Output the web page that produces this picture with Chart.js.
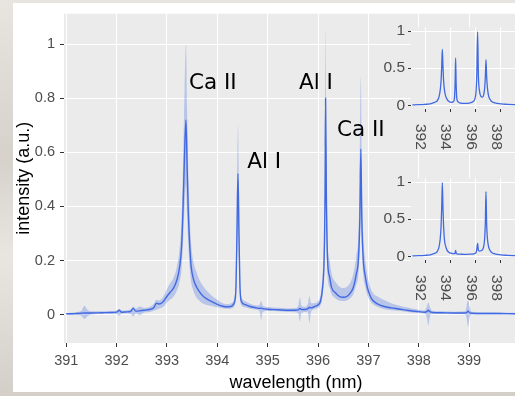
<!DOCTYPE html>
<html>
<head>
<meta charset="utf-8">
<script src="https://cdn.jsdelivr.net/npm/chart.js@4.4.1/dist/chart.umd.min.js"></script>
<style>
  html, body { margin: 0; padding: 0; }
  body {
    width: 515px; height: 396px; overflow: hidden;
    background: linear-gradient(180deg, #e8e4df 0%, #d6d1cb 40%, #e9e6e2 65%, #d3cec8 100%);
  }
  #frame { position: relative; width: 515px; height: 396px; overflow: hidden; }
  #sheet { position: absolute; left: 13px; top: 3px; width: 502px; height: 389px; background: #fff; }
  canvas { position: absolute; }
  #main { left: 0; top: 0; }
  #inset1 { left: 370px; top: 15px; }
  #inset2 { left: 370px; top: 166px; }
</style>
</head>
<body>
<div id="frame">
  <div id="sheet"></div>
  <canvas id="main" width="528" height="396"></canvas>
  <canvas id="inset1" width="158" height="145"></canvas>
  <canvas id="inset2" width="158" height="145"></canvas>
</div>
<script>
// main spectrum: mean line and spread band
const wavelength = [
  391.00, 391.10, 391.20, 391.30, 391.36, 391.42, 391.50, 391.70, 391.90, 392.00,
  392.05, 392.10, 392.20, 392.28, 392.33, 392.38, 392.46, 392.55, 392.65, 392.74,
  392.79, 392.84, 392.92, 393.00, 393.06, 393.13, 393.20, 393.25, 393.29, 393.32,
  393.35, 393.377, 393.40, 393.42, 393.47, 393.52, 393.58, 393.64, 393.70, 393.79,
  393.89, 394.00, 394.11, 394.20, 394.28, 394.34, 394.37, 394.39, 394.41, 394.43,
  394.45, 394.48, 394.55, 394.65, 394.78, 394.84, 394.87, 394.90, 395.00, 395.20,
  395.40, 395.55, 395.61, 395.64, 395.67, 395.74, 395.80, 395.83, 395.86, 395.93,
  396.00, 396.05, 396.09, 396.12, 396.14, 396.15, 396.165, 396.19, 396.23, 396.27,
  396.35, 396.42, 396.50, 396.58, 396.65, 396.70, 396.76, 396.80, 396.83, 396.85,
  396.87, 396.90, 396.94, 396.98, 397.03, 397.09, 397.20, 397.30, 397.45, 397.60,
  397.80, 398.00, 398.12, 398.16, 398.19, 398.22, 398.27, 398.45, 398.70, 398.92,
  398.95, 398.98, 399.01, 399.05, 399.30, 399.60, 399.90, 400.20
];
const meanIntensity = [
  0.003, 0.003, 0.004, 0.005, 0.006, 0.006, 0.006, 0.007, 0.008, 0.009,
  0.016, 0.009, 0.010, 0.012, 0.023, 0.013, 0.014, 0.016, 0.019, 0.026,
  0.042, 0.039, 0.047, 0.068, 0.082, 0.098, 0.130, 0.175, 0.250, 0.400,
  0.600, 0.720, 0.550, 0.400, 0.200, 0.136, 0.105, 0.086, 0.072, 0.058,
  0.048, 0.038, 0.031, 0.029, 0.031, 0.046, 0.100, 0.300, 0.522, 0.300,
  0.100, 0.048, 0.037, 0.030, 0.025, 0.023, 0.024, 0.022, 0.020, 0.018,
  0.016, 0.016, 0.018, 0.023, 0.019, 0.019, 0.022, 0.027, 0.025, 0.030,
  0.036, 0.050, 0.100, 0.200, 0.450, 0.800, 0.450, 0.200, 0.140, 0.100,
  0.080, 0.068, 0.064, 0.068, 0.082, 0.100, 0.150, 0.200, 0.350, 0.613,
  0.350, 0.200, 0.140, 0.100, 0.072, 0.052, 0.038, 0.031, 0.025, 0.021,
  0.015, 0.011, 0.009, 0.011, 0.016, 0.011, 0.008, 0.007, 0.006, 0.006,
  0.007, 0.013, 0.007, 0.005, 0.004, 0.004, 0.003, 0.003
];
const lowerIntensity = [
  0.000, -0.001, -0.001, -0.004, -0.016, -0.006, 0.000, 0.002, 0.003, 0.002,
  -0.004, 0.003, 0.004, 0.002, -0.007, 0.004, -0.002, 0.008, 0.010, 0.014,
  0.018, 0.022, 0.028, 0.045, 0.055, 0.066, 0.090, 0.120, 0.170, 0.270,
  0.400, 0.480, 0.370, 0.270, 0.135, 0.090, 0.065, 0.052, 0.042, 0.036,
  0.032, 0.027, 0.023, 0.022, 0.023, 0.032, 0.070, 0.200, 0.350, 0.200,
  0.070, 0.034, 0.027, 0.022, 0.018, 0.012, -0.020, 0.010, 0.013, 0.012,
  0.010, 0.009, 0.004, -0.026, 0.006, 0.010, 0.008, -0.032, 0.010, 0.020,
  0.025, 0.035, 0.070, 0.140, 0.300, 0.540, 0.300, 0.140, 0.100, 0.075,
  0.060, 0.052, 0.050, 0.053, 0.062, 0.075, 0.110, 0.145, 0.250, 0.430,
  0.250, 0.145, 0.100, 0.072, 0.052, 0.038, 0.027, 0.021, 0.016, 0.014,
  0.009, 0.006, 0.004, -0.010, -0.040, -0.008, 0.003, 0.003, 0.002, 0.001,
  -0.012, -0.046, -0.012, 0.000, 0.000, 0.000, 0.000, 0.000
];
const upperIntensity = [
  0.006, 0.007, 0.009, 0.014, 0.033, 0.018, 0.012, 0.012, 0.013, 0.015,
  0.021, 0.015, 0.016, 0.020, 0.031, 0.022, 0.030, 0.024, 0.028, 0.040,
  0.055, 0.052, 0.064, 0.095, 0.115, 0.135, 0.180, 0.240, 0.350, 0.560,
  0.830, 1.000, 0.760, 0.560, 0.290, 0.200, 0.160, 0.130, 0.110, 0.088,
  0.070, 0.055, 0.042, 0.039, 0.042, 0.065, 0.140, 0.420, 0.700, 0.420,
  0.140, 0.066, 0.050, 0.040, 0.034, 0.036, 0.050, 0.034, 0.028, 0.025,
  0.023, 0.024, 0.034, 0.062, 0.034, 0.029, 0.040, 0.068, 0.042, 0.042,
  0.050, 0.072, 0.140, 0.280, 0.620, 1.050, 0.620, 0.280, 0.200, 0.150,
  0.120, 0.104, 0.098, 0.104, 0.122, 0.150, 0.215, 0.285, 0.500, 0.880,
  0.500, 0.285, 0.200, 0.145, 0.105, 0.080, 0.065, 0.055, 0.042, 0.034,
  0.025, 0.018, 0.015, 0.030, 0.045, 0.028, 0.014, 0.012, 0.011, 0.012,
  0.030, 0.057, 0.030, 0.011, 0.009, 0.008, 0.007, 0.007
];
const xTicks = [391, 392, 393, 394, 395, 396, 397, 398, 399];
const yTicks = [0, 0.2, 0.4, 0.6, 0.8, 1];
const yTickLabels = ['0', '0.2', '0.4', '0.6', '0.8', '1'];

// line labels, placed in data coordinates
const lineNames = ['Ca II', 'Al I', 'Al I', 'Ca II'];
const lineNameX = [393.91, 394.93, 395.96, 396.85];
const lineNameY = [0.854, 0.562, 0.854, 0.682];

// the two small normalised spectra
const insetWavelength = [
  391.0, 391.5, 392.0, 392.4, 392.7, 392.9, 393.0, 393.1, 393.2, 393.27,
  393.32, 393.37, 393.42, 393.47, 393.54, 393.64, 393.75, 393.9, 394.1, 394.25,
  394.33, 394.38, 394.42, 394.46, 394.51, 394.6, 394.8, 395.1, 395.5, 395.8,
  395.95, 396.04, 396.1, 396.16, 396.22, 396.3, 396.42, 396.55, 396.65, 396.72,
  396.77, 396.82, 396.87, 396.92, 397.0, 397.1, 397.25, 397.45, 397.7, 398.0,
  398.5, 399.0, 399.5, 400.0
];
const insetTopIntensity = [
  0.005, 0.008, 0.013, 0.02, 0.035, 0.05, 0.07, 0.11, 0.2, 0.33,
  0.52, 0.755, 0.52, 0.33, 0.2, 0.12, 0.08, 0.05, 0.04, 0.05,
  0.1, 0.3, 0.637, 0.3, 0.1, 0.05, 0.03, 0.025, 0.03, 0.05,
  0.09, 0.2, 0.45, 0.987, 0.4, 0.2, 0.12, 0.11, 0.15, 0.24,
  0.38, 0.616, 0.4, 0.26, 0.15, 0.09, 0.055, 0.035, 0.025, 0.018,
  0.013, 0.01, 0.008, 0.008
];
const insetBottomIntensity = [
  0.005, 0.008, 0.013, 0.02, 0.035, 0.05, 0.075, 0.12, 0.23, 0.4,
  0.65, 0.99, 0.65, 0.4, 0.22, 0.13, 0.08, 0.05, 0.04, 0.035,
  0.035, 0.045, 0.08, 0.045, 0.035, 0.03, 0.028, 0.026, 0.028, 0.03,
  0.04, 0.05, 0.1, 0.175, 0.08, 0.07, 0.075, 0.09, 0.14, 0.25,
  0.45, 0.87, 0.45, 0.27, 0.15, 0.09, 0.055, 0.035, 0.025, 0.018,
  0.013, 0.01, 0.008, 0.008
];
const insetXTicks = [392, 394, 396, 398];
const insetYTicks = [0, 0.5, 1];
const insetYTickLabels = ['0', '0.5', '1'];

const blue = '#4169E1';
const band = 'rgba(65, 105, 225, 0.3)';
const panelGrey = '#EBEBEB';
const tickGrey = '#4D4D4D';
const sans = "'Liberation Sans', Arial, sans-serif";

const points = (xs, ys) => xs.map((x, i) => ({ x: x, y: ys[i] }));

const panelBackground = {
  id: 'panelBackground',
  beforeDraw(chart) {
    const { ctx, chartArea: a } = chart;
    ctx.save();
    ctx.fillStyle = panelGrey;
    ctx.fillRect(a.left, a.top, a.right - a.left, a.bottom - a.top);
    ctx.restore();
  }
};

// insets hide the main grid under their x labels too
const insetLabelBacking = {
  id: 'insetLabelBacking',
  beforeDraw(chart) {
    const { ctx, chartArea: a } = chart;
    ctx.save();
    ctx.fillStyle = panelGrey;
    ctx.fillRect(a.left, a.bottom, a.right - a.left, 41);
    ctx.restore();
  }
};

const lineNameLabels = {
  id: 'lineNameLabels',
  afterDatasetsDraw(chart) {
    const { ctx, scales: { x, y } } = chart;
    ctx.save();
    ctx.font = "21.5px 'DejaVu Sans'";
    ctx.fillStyle = '#000';
    ctx.textAlign = 'center';
    ctx.textBaseline = 'middle';
    lineNames.forEach((name, i) => {
      ctx.fillText(name, x.getPixelForValue(lineNameX[i]), y.getPixelForValue(lineNameY[i]));
    });
    ctx.restore();
  }
};

// inset x labels read top-to-bottom
const rotatedInsetLabels = {
  id: 'rotatedInsetLabels',
  afterDraw(chart) {
    const { ctx, chartArea, scales: { x } } = chart;
    ctx.save();
    ctx.font = '15.5px ' + sans;
    ctx.fillStyle = tickGrey;
    ctx.textAlign = 'left';
    ctx.textBaseline = 'alphabetic';
    insetXTicks.forEach(v => {
      ctx.save();
      ctx.translate(x.getPixelForValue(v) - 9, chartArea.bottom + 15);
      ctx.rotate(Math.PI / 2);
      ctx.fillText(String(v), 0, 0);
      ctx.restore();
    });
    ctx.restore();
  }
};

new Chart(document.getElementById('main'), {
  type: 'line',
  data: {
    datasets: [
      { data: points(wavelength, lowerIntensity), borderWidth: 0, borderColor: 'transparent', pointRadius: 0, fill: false, cubicInterpolationMode: 'monotone' },
      { data: points(wavelength, upperIntensity), borderWidth: 0, borderColor: 'transparent', pointRadius: 0, fill: '-1', backgroundColor: band, cubicInterpolationMode: 'monotone' },
      { data: points(wavelength, meanIntensity), borderColor: blue, borderWidth: 1.4, pointRadius: 0, fill: false, cubicInterpolationMode: 'monotone' }
    ]
  },
  options: {
    responsive: false,
    animation: false,
    events: [],
    layout: { padding: { top: 9, right: 0, bottom: 0, left: 0 } },
    plugins: { legend: { display: false }, tooltip: { enabled: false } },
    scales: {
      x: {
        type: 'linear',
        min: 390.955,
        max: 400.17,
        afterBuildTicks: s => { s.ticks = xTicks.map(v => ({ value: v })); },
        afterFit: s => { s.height = 53; },
        border: { display: false },
        grid: { color: '#fff', lineWidth: 1, tickLength: 4, tickColor: '#333' },
        ticks: { padding: 5, color: tickGrey, font: { family: sans, size: 14.5 }, maxRotation: 0 },
        title: { display: true, text: 'wavelength (nm)', color: '#000', font: { family: sans, size: 18 }, padding: { top: 0, bottom: 2 } }
      },
      y: {
        min: -0.105,
        max: 1.113,
        afterBuildTicks: s => { s.ticks = yTicks.map(v => ({ value: v })); },
        afterFit: s => { s.width = 64; },
        border: { display: false },
        grid: { color: '#fff', lineWidth: 1, tickLength: 4, tickColor: '#333' },
        ticks: { padding: 5, color: tickGrey, font: { family: sans, size: 14.5 }, callback: (v, i) => yTickLabels[i] },
        title: { display: true, text: 'intensity (a.u.)', color: '#000', font: { family: sans, size: 18 }, padding: { top: 13, bottom: 0 } }
      }
    }
  },
  plugins: [panelBackground, lineNameLabels]
});

function insetChart(id, values) {
  return new Chart(document.getElementById(id), {
    type: 'line',
    data: {
      datasets: [{ data: points(insetWavelength, values), borderColor: blue, borderWidth: 1.3, pointRadius: 0, fill: false, cubicInterpolationMode: 'monotone' }]
    },
    options: {
      responsive: false,
      animation: false,
      events: [],
      layout: { padding: { top: 10, right: 0, bottom: 0, left: 0 } },
      plugins: { legend: { display: false }, tooltip: { enabled: false } },
      scales: {
        x: {
          type: 'linear',
          min: 390.893,
          max: 400.142,
          afterBuildTicks: s => { s.ticks = insetXTicks.map(v => ({ value: v })); },
          afterFit: s => { s.height = 51; },
          border: { display: false },
          grid: { color: '#fff', lineWidth: 1, tickLength: 3, tickColor: '#333' },
          ticks: { display: false }
        },
        y: {
          min: -0.05,
          max: 1.05,
          afterBuildTicks: s => { s.ticks = insetYTicks.map(v => ({ value: v })); },
          afterFit: s => { s.width = 41; },
          border: { display: false },
          grid: { color: '#fff', lineWidth: 1, tickLength: 3, tickColor: '#333' },
          ticks: { padding: 3, color: tickGrey, font: { family: sans, size: 15.5 }, callback: (v, i) => insetYTickLabels[i] }
        }
      }
    },
    plugins: [insetLabelBacking, panelBackground, rotatedInsetLabels]
  });
}

insetChart('inset1', insetTopIntensity);
insetChart('inset2', insetBottomIntensity);
</script>
</body>
</html>
